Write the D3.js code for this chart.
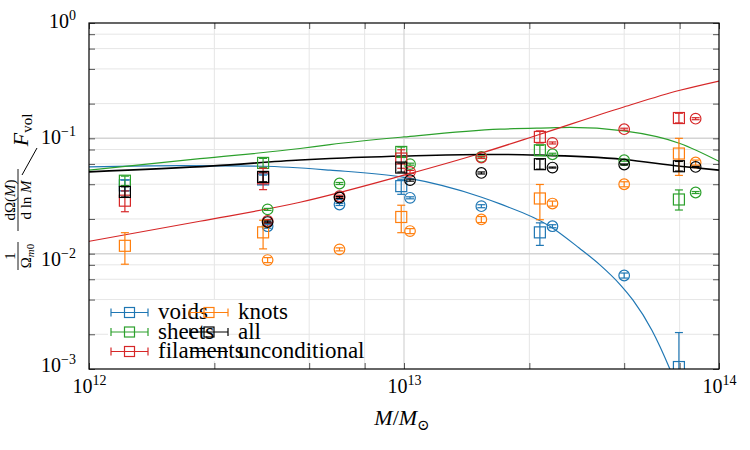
<!DOCTYPE html>
<html>
<head>
<meta charset="utf-8">
<script src="https://cdn.jsdelivr.net/npm/d3@7"></script>
<style>
  body { margin: 0; background: #fff; }
  svg { display: block; font-family: "Liberation Serif", "DejaVu Serif", serif; }
</style>
</head>
<body>
<div id="root"></div>
<script>
// Mass bins (in solar masses) of the two sets of measurements.
const sqMass = [1.3e12, 3.57e12, 9.8e12, 2.7e13, 7.46e13];
const ciMass = [3.69e12, 6.24e12, 1.045e13, 1.76e13, 2.96e13, 5.0e13, 8.43e13];

// Square markers: value, lower and upper end of the error bar.
const voidsSq = [0.0391, 0.044, 0.0385, 0.0153, 0.00104];
const voidsSqLo = [0.035, 0.040, 0.0327, 0.0118, 0.0004];
const voidsSqHi = [0.0435, 0.048, 0.0442, 0.0185, 0.00207];
const sheetsSq = [0.0429, 0.0612, 0.0762, 0.0788, 0.0295];
const sheetsSqLo = [0.039, 0.056, 0.069, 0.071, 0.0239];
const sheetsSqHi = [0.047, 0.067, 0.084, 0.087, 0.0357];
const filamentsSq = [0.0288, 0.045, 0.0668, 0.1028, 0.150];
const filamentsSqLo = [0.0231, 0.0359, 0.055, 0.0912, 0.136];
const filamentsSqHi = [0.035, 0.055, 0.0796, 0.116, 0.165];
const knotsSq = [0.0117, 0.0153, 0.0208, 0.0301, 0.0738];
const knotsSqLo = [0.0081, 0.011, 0.0152, 0.0197, 0.0477];
const knotsSqHi = [0.0152, 0.0195, 0.0263, 0.0398, 0.100];
const allSq = [0.0343, 0.0463, 0.0558, 0.0597, 0.0573];
const allSqLo = [0.031, 0.042, 0.051, 0.054, 0.052];
const allSqHi = [0.038, 0.051, 0.061, 0.066, 0.063];

// Circle markers: value and (small) relative error.
const voidsCi = [0.0173, 0.0267, 0.0305, 0.0258, 0.0173, 0.00647, null];
const voidsCiErr = [0.04, 0.02, 0.02, 0.03, 0.03, 0.05, 0];
const sheetsCi = [0.0242, 0.0406, 0.0597, 0.069, 0.0728, 0.0646, 0.0339];
const sheetsCiErr = [0.02, 0.02, 0.02, 0.02, 0.02, 0.02, 0.02];
const filamentsCi = [0.0192, 0.0315, 0.0512, 0.0682, 0.0912, 0.12, 0.148];
const filamentsCiErr = [0.03, 0.02, 0.03, 0.02, 0.02, 0.02, 0.02];
const knotsCi = [0.0088, 0.0109, 0.0157, 0.0198, 0.0272, 0.04, 0.0617];
const knotsCiErr = [0.05, 0.03, 0.05, 0.06, 0.05, 0.05, 0.05];
const allCi = [0.0188, 0.0307, 0.0434, 0.0501, 0.0558, 0.0593, 0.0565];
const allCiErr = [0.02, 0.02, 0.02, 0.02, 0.01, 0.01, 0.01];

// Model curves: log10(M) and value.
const voidsCurveLogM = [12.0, 12.289, 12.552, 12.765, 13.0, 13.244, 13.305, 13.463, 13.556, 13.622, 13.686, 13.727, 13.787, 13.844, 13.892];
const voidsCurve = [0.0566, 0.058, 0.0573, 0.053, 0.0458, 0.031, 0.027, 0.0173, 0.0112, 0.0080, 0.0054, 0.00395, 0.00217, 0.001, 0.00046];
const sheetsCurveLogM = [12.0, 12.352, 12.67, 12.765, 13.0, 13.305, 13.463, 13.527, 13.698, 13.876, 14.0];
const sheetsCurve = [0.053, 0.0666, 0.0816, 0.0883, 0.1028, 0.12, 0.1232, 0.1243, 0.116, 0.0903, 0.0632];
const filamentsCurveLogM = [12.0, 12.352, 12.67, 13.0, 13.244, 13.432, 13.698, 13.876, 14.0];
const filamentsCurve = [0.0128, 0.0191, 0.0279, 0.0479, 0.0743, 0.1085, 0.187, 0.261, 0.314];
const allCurveLogM = [12.0, 12.394, 12.67, 12.765, 13.0, 13.248, 13.305, 13.429, 13.698, 13.876, 14.0];
const allCurve = [0.0512, 0.0577, 0.0648, 0.0668, 0.0702, 0.0724, 0.0724, 0.0715, 0.0656, 0.0573, 0.053];

// Axis ticks.
const xTickVals = [1e12, 1e13, 1e14];
const xTickExp = ['12', '13', '14'];
const xMinorVals = [2.5e12, 5e12, 7.5e12, 2.5e13, 5e13, 7.5e13];
const yTickVals = [1e-3, 1e-2, 1e-1, 1];
const yTickExp = ['\u22123', '\u22122', '\u22121', '0'];
const yMinorVals = [2e-3, 4e-3, 6e-3, 8e-3, 2e-2, 4e-2, 6e-2, 8e-2, 0.2, 0.4, 0.6, 0.8];

const colors = { voids: '#1f77b4', sheets: '#2ca02c', filaments: '#d62728', knots: '#ff7f0e', all: '#000000' };

const series = [
  { name: 'voids', sq: voidsSq, lo: voidsSqLo, hi: voidsSqHi, ci: voidsCi, ciErr: voidsCiErr },
  { name: 'sheets', sq: sheetsSq, lo: sheetsSqLo, hi: sheetsSqHi, ci: sheetsCi, ciErr: sheetsCiErr },
  { name: 'filaments', sq: filamentsSq, lo: filamentsSqLo, hi: filamentsSqHi, ci: filamentsCi, ciErr: filamentsCiErr },
  { name: 'knots', sq: knotsSq, lo: knotsSqLo, hi: knotsSqHi, ci: knotsCi, ciErr: knotsCiErr },
  { name: 'all', sq: allSq, lo: allSqLo, hi: allSqHi, ci: allCi, ciErr: allCiErr }
];
const curves = [
  { name: 'voids', logM: voidsCurveLogM, v: voidsCurve },
  { name: 'sheets', logM: sheetsCurveLogM, v: sheetsCurve },
  { name: 'filaments', logM: filamentsCurveLogM, v: filamentsCurve },
  { name: 'all', logM: allCurveLogM, v: allCurve }
];

let width = 750;
let height = 450;
let pLeft = 89, pRight = 719, pTop = 23, pBottom = 369;

let svg = d3.select('#root')
  .append('svg')
  .attr('width', width)
  .attr('height', height);

let xScale = d3.scaleLog().domain([1e12, 1e14]).range([pLeft, pRight]);
let yScale = d3.scaleLog().domain([1e-3, 1]).range([pBottom, pTop]);

// Grid.
let grid = svg.append('g');
xMinorVals.forEach(v => grid.append('line')
  .attr('x1', xScale(v)).attr('x2', xScale(v)).attr('y1', pTop).attr('y2', pBottom)
  .attr('stroke', '#e6e6e6').attr('stroke-width', 1));
yMinorVals.forEach(v => grid.append('line')
  .attr('x1', pLeft).attr('x2', pRight).attr('y1', yScale(v)).attr('y2', yScale(v))
  .attr('stroke', '#e6e6e6').attr('stroke-width', 1));
[1e13].forEach(v => grid.append('line')
  .attr('x1', xScale(v)).attr('x2', xScale(v)).attr('y1', pTop).attr('y2', pBottom)
  .attr('stroke', '#d4d4d4').attr('stroke-width', 1.2));
[1e-2, 1e-1].forEach(v => grid.append('line')
  .attr('x1', pLeft).attr('x2', pRight).attr('y1', yScale(v)).attr('y2', yScale(v))
  .attr('stroke', '#d4d4d4').attr('stroke-width', 1.5));

// Clip for the data.
svg.append('clipPath').attr('id', 'plotclip')
  .append('rect').attr('x', pLeft).attr('y', pTop).attr('width', pRight - pLeft).attr('height', pBottom - pTop);

let plot = svg.append('g').attr('clip-path', 'url(#plotclip)');

// Curves.
let line = d3.line()
  .x(d => xScale(Math.pow(10, d[0])))
  .y(d => yScale(d[1]))
  .curve(d3.curveMonotoneX);

curves.forEach(c => {
  plot.append('path')
    .datum(c.logM.map((m, i) => [m, c.v[i]]))
    .attr('d', line)
    .attr('fill', 'none')
    .attr('stroke', colors[c.name])
    .attr('stroke-width', c.name === 'all' ? 1.6 : 1.2);
});

// Error bars + markers.
let cap = 4;
series.forEach(s => {
  let col = colors[s.name];
  let g = plot.append('g');
  sqMass.forEach((m, i) => {
    let cx = xScale(m);
    let y0 = yScale(s.lo[i]), y1 = yScale(s.hi[i]);
    g.append('line').attr('x1', cx).attr('x2', cx).attr('y1', y0).attr('y2', y1).attr('stroke', col).attr('stroke-width', 1.2);
    [y0, y1].forEach(yy => g.append('line').attr('x1', cx - cap).attr('x2', cx + cap).attr('y1', yy).attr('y2', yy).attr('stroke', col).attr('stroke-width', 1.2));
    g.append('rect')
      .attr('x', cx - 5.5).attr('y', yScale(s.sq[i]) - 5.5)
      .attr('width', 11).attr('height', 11)
      .attr('fill', 'none').attr('stroke', col).attr('stroke-width', 1.2);
  });
  ciMass.forEach((m, i) => {
    if (s.ci[i] == null) return;
    let cx = xScale(m);
    let y0 = yScale(s.ci[i] * (1 - s.ciErr[i])), y1 = yScale(s.ci[i] * (1 + s.ciErr[i]));
    g.append('line').attr('x1', cx).attr('x2', cx).attr('y1', y0).attr('y2', y1).attr('stroke', col).attr('stroke-width', 1.2);
    [y0, y1].forEach(yy => g.append('line').attr('x1', cx - cap).attr('x2', cx + cap).attr('y1', yy).attr('y2', yy).attr('stroke', col).attr('stroke-width', 1.2));
    g.append('circle')
      .attr('cx', cx).attr('cy', yScale(s.ci[i])).attr('r', 5.3)
      .attr('fill', 'none').attr('stroke', col).attr('stroke-width', 1.2);
  });
});

// Inward ticks on all four sides.
let tickColor = '#555';
let allX = xTickVals.concat(xMinorVals);
let allY = yTickVals.concat(yMinorVals);
[
  [d3.axisBottom(xScale).tickValues(allX), `translate(0,${pBottom})`],
  [d3.axisTop(xScale).tickValues(allX), `translate(0,${pTop})`],
  [d3.axisLeft(yScale).tickValues(allY), `translate(${pLeft},0)`],
  [d3.axisRight(yScale).tickValues(allY), `translate(${pRight},0)`]
].forEach(([ax, tr]) => {
  let g = svg.append('g').attr('transform', tr)
    .call(ax.tickSize(-6).tickFormat(''));
  g.select('.domain').remove();
  g.selectAll('line').attr('stroke', tickColor);
});

// Frame.
svg.append('rect')
  .attr('x', pLeft).attr('y', pTop).attr('width', pRight - pLeft).attr('height', pBottom - pTop)
  .attr('fill', 'none').attr('stroke', '#000').attr('stroke-width', 1.2);

// Tick labels.
let xLab = svg.append('g').attr('transform', `translate(0,${pBottom})`)
  .call(d3.axisBottom(xScale).tickValues(xTickVals).tickSize(0).tickFormat(''));
xLab.select('.domain').remove();
xLab.selectAll('text').each(function (d, i) {
  let t = d3.select(this)
    .attr('dy', null).attr('y', 24)
    .attr('fill', '#000').attr('font-size', 20)
    .attr('font-family', '"Liberation Serif", serif');
  t.append('tspan').text('10');
  t.append('tspan').attr('dy', -8).attr('font-size', 14).text(xTickExp[i]);
});

// baseline offset of each y label from its tick
let yBase = [2, 12, 5.5, 4];
let yLab = svg.append('g').attr('transform', `translate(${pLeft},0)`)
  .call(d3.axisLeft(yScale).tickValues(yTickVals).tickSize(0).tickPadding(13).tickFormat(''));
yLab.select('.domain').remove();
yLab.selectAll('text').each(function (d, i) {
  let t = d3.select(this)
    .attr('dy', null).attr('y', yBase[i])
    .attr('fill', '#000').attr('font-size', 20)
    .attr('font-family', '"Liberation Serif", serif');
  t.append('tspan').text('10');
  t.append('tspan').attr('dy', -8).attr('font-size', 14).text(yTickExp[i]);
});

// Axis labels.
let xTitle = svg.append('text')
  .attr('x', 402).attr('y', 425)
  .attr('text-anchor', 'middle').attr('font-size', 22);
xTitle.append('tspan').attr('font-style', 'italic').text('M');
xTitle.append('tspan').text('/');
xTitle.append('tspan').attr('font-style', 'italic').text('M');
xTitle.append('tspan').attr('dy', 5).attr('font-size', 15).text('\u2299');

// y title: 1/Omega_m0 * dOmega(M)/dlnM / F_vol, rotated
let yTitle = svg.append('g');
let rot = (bx, cy) => `translate(${bx},${cy}) rotate(-90)`;
yTitle.append('text').attr('transform', rot(15, 256)).attr('text-anchor', 'middle').attr('font-size', 15).text('1');
yTitle.append('line').attr('x1', 18).attr('x2', 18).attr('y1', 242).attr('y2', 270).attr('stroke', '#000').attr('stroke-width', 0.9);
let om = yTitle.append('text').attr('transform', rot(30.5, 256)).attr('text-anchor', 'middle').attr('font-size', 15);
om.append('tspan').text('\u03A9');
om.append('tspan').attr('dy', 3).attr('font-size', 11).attr('font-style', 'italic').text('m');
om.append('tspan').attr('font-size', 11).text('0');
let num = yTitle.append('text').attr('transform', rot(15, 200)).attr('text-anchor', 'middle').attr('font-size', 15);
num.append('tspan').text('d\u03A9(');
num.append('tspan').attr('font-style', 'italic').text('M');
num.append('tspan').text(')');
yTitle.append('line').attr('x1', 18).attr('x2', 18).attr('y1', 169).attr('y2', 231).attr('stroke', '#000').attr('stroke-width', 0.9);
let den = yTitle.append('text').attr('transform', rot(30.5, 200)).attr('text-anchor', 'middle').attr('font-size', 15);
den.append('tspan').text('d ln ');
den.append('tspan').attr('font-style', 'italic').text('M');
yTitle.append('line').attr('x1', 37).attr('y1', 148).attr('x2', 22).attr('y2', 175).attr('stroke', '#000').attr('stroke-width', 1);
let fv = yTitle.append('text').attr('transform', rot(28, 130)).attr('text-anchor', 'middle').attr('font-size', 22);
fv.append('tspan').attr('font-style', 'italic').text('F');
fv.append('tspan').attr('dy', 4).attr('font-size', 15).text('vol');

// Legend.
const legCol1 = ['voids', 'sheets', 'filaments'];
const legCol2 = ['knots', 'all', 'unconditional'];
let legRows = [312.5, 332, 351.5];
let legend = svg.append('g');
legend.append('rect').attr('x', 108).attr('y', 300).attr('width', 120).attr('height', 61).attr('fill', '#fff');

let drawIcon = (x0, x1, yy, col, marker) => {
  legend.append('line').attr('x1', x0).attr('x2', x1).attr('y1', yy).attr('y2', yy).attr('stroke', col).attr('stroke-width', 1.2);
  if (!marker) return;
  [x0, x1].forEach(xx => legend.append('line').attr('x1', xx).attr('x2', xx).attr('y1', yy - 4).attr('y2', yy + 4).attr('stroke', col).attr('stroke-width', 1.2));
  let cx = (x0 + x1) / 2;
  legend.append('rect').attr('x', cx - 5).attr('y', yy - 5).attr('width', 10).attr('height', 10)
    .attr('fill', 'none').attr('stroke', col).attr('stroke-width', 1.2);
};
let legText = (x, yy, s) => legend.append('text').attr('x', x).attr('y', yy + 6.5).attr('font-size', 23).attr('fill', '#000').text(s);

legCol1.forEach((n, i) => { drawIcon(111, 148, legRows[i], colors[n], true); legText(158, legRows[i], n); });
legCol2.forEach((n, i) => legText(238, legRows[i], n));
legCol2.forEach((n, i) => {
  if (n === 'unconditional') drawIcon(190, 228, legRows[i], '#000', false);
  else drawIcon(190, 228, legRows[i], colors[n], true);
});
</script>
</body>
</html>
